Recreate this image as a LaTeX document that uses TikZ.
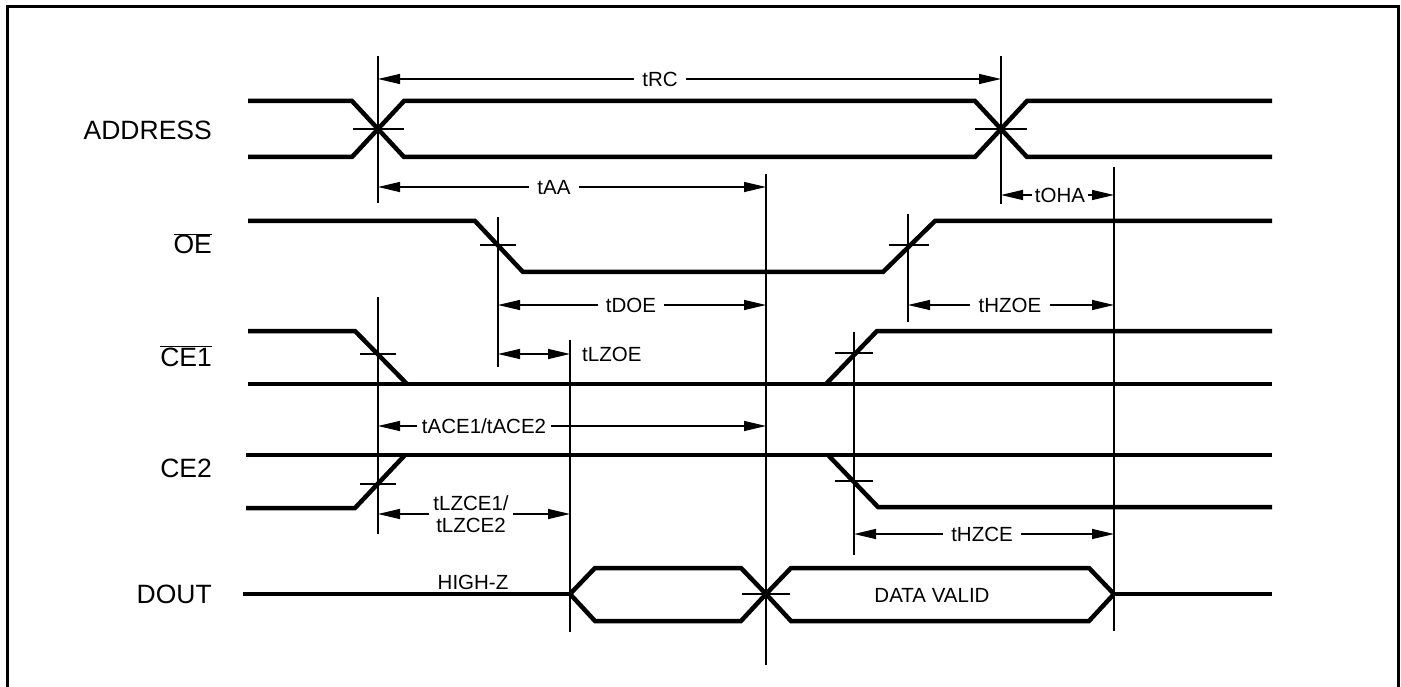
\documentclass[tikz,border=0pt]{standalone}
\usepackage{fontspec}
\setmainfont{Liberation Sans}
\usetikzlibrary{arrows.meta}
\begin{document}
\begin{tikzpicture}[x=1pt,y=-1pt,
  sig/.style={line width=4.5pt, line join=miter},
  thinl/.style={line width=1.4pt},
  arr/.style={thinl,-{Triangle[length=22pt,width=10pt]}},
  darr/.style={thinl,{Triangle[length=22pt,width=10pt]}-{Triangle[length=22pt,width=10pt]}},
  tlab/.style={font=\fontsize{20.5}{22}\selectfont, text height=14.7pt, text depth=0pt, inner sep=8pt},
  tlab2/.style={font=\fontsize{20.5}{22}\selectfont, align=center, inner sep=4pt},
  slab/.style={font=\fontsize{26.5}{30}\selectfont, anchor=base east, inner sep=0pt},
  tick/.style={thinl}]
\useasboundingbox (0,0) rectangle (1401,687);
% frame
\draw[line width=3pt] (7,687) -- (7,7) -- (1398,7) -- (1398,687);

% signal names
\node[slab] (lADDR) at (212,140) {ADDRESS};
\node[slab] (lOE)   at (212,254) {$\overline{\hbox{OE}}$};
\node[slab] (lCE1)  at (212,366) {$\overline{\hbox{CE1}}$};
\node[slab] (lCE2)  at (212,477) {CE2};
\node[slab] (lDOUT) at (212,603) {DOUT};

% ADDRESS
\draw[sig] (248,101) -- (352,101) -- (404,157) -- (975,157) -- (1027,101) -- (1272,101);
\draw[sig] (248,157) -- (352,157) -- (404,101) -- (975,101) -- (1027,157) -- (1272,157);
% OE
\draw[sig] (248,221) -- (475,221) -- (523,272) -- (883,272) -- (935,221) -- (1272,221);
% CE1
\draw[sig] (248,331) -- (355,331) -- (407,384);
\draw[sig] (248,384) -- (1272,384);
\draw[sig] (826,384) -- (877,331) -- (1272,331);
% CE2
\draw[sig] (246,455) -- (1272,455);
\draw[sig] (246,508) -- (355,508) -- (405,455);
\draw[sig] (828,455) -- (878,507) -- (1272,507);
% DOUT
\draw[sig] (243,594) -- (570,594);
\draw[sig] (570,594) -- (595,568) -- (741,568) -- (766,594) -- (741,621) -- (595,621) -- cycle;
\draw[sig] (766,594) -- (791,568) -- (1089,568) -- (1114,594) -- (1089,621) -- (791,621) -- cycle;
\draw[sig] (1114,594) -- (1272,594);

% vertical reference lines
\draw[thinl] (378,56) -- (378,203);
\draw[thinl] (1001,56) -- (1001,204);
\draw[thinl] (766,174) -- (766,665);
\draw[thinl] (1114,167) -- (1114,631);
\draw[thinl] (498,217) -- (498,367);
\draw[thinl] (570,340) -- (570,632);
\draw[thinl] (908,214) -- (908,322);
\draw[thinl] (854,332) -- (854,555);
\draw[thinl] (378,297) -- (378,534);

% crosshair ticks
\draw[tick] (353,129) -- (404,129);
\draw[tick] (975,129) -- (1027,129);
\draw[tick] (480,245) -- (516,245);
\draw[tick] (889,245) -- (929,245);
\draw[tick] (360,354) -- (396,354);
\draw[tick] (835,353) -- (873,353);
\draw[tick] (360,484) -- (396,484);
\draw[tick] (835,481) -- (873,481);
\draw[tick] (742,594) -- (790,594);

% timing labels and arrows
\node[tlab] (tRC) at (660,79) {tRC};
\draw[arr] (tRC) -- (378,79);
\draw[arr] (tRC) -- (1001,79);

\node[tlab] (tAA) at (554,187) {tAA};
\draw[arr] (tAA) -- (378,187);
\draw[arr] (tAA) -- (766,187);

\node[tlab,inner sep=3pt] (tOHA) at (1060,195) {tOHA};
\draw[arr] (tOHA) -- (1001,195);
\draw[arr] (tOHA) -- (1114,195);

\node[tlab] (tDOE) at (631,305) {tDOE};
\draw[arr] (tDOE) -- (498,305);
\draw[arr] (tDOE) -- (766,305);

\node[tlab] (tHZOE) at (1010,305) {tHZOE};
\draw[arr] (tHZOE) -- (908,305);
\draw[arr] (tHZOE) -- (1114,305);

\coordinate (lzA) at (498,354);
\coordinate (lzB) at (570,354);
\draw[darr] (lzA) -- (lzB);
\node[tlab,anchor=west,inner sep=0pt] (tLZOE) at (582,354) {tLZOE};

\node[tlab,inner sep=5pt] (tACE) at (484,426) {tACE1/tACE2};
\draw[arr] (tACE) -- (378,426);
\draw[arr] (tACE) -- (766,426);

\node[tlab2] (tLZCE) at (471,514) {tLZCE1/\\tLZCE2};
\draw[arr] (tLZCE.west) -- (378,514);
\draw[arr] (tLZCE.east) -- (570,514);

\node[tlab] (tHZCE) at (982,534) {tHZCE};
\draw[arr] (tHZCE) -- (854,534);
\draw[arr] (tHZCE) -- (1114,534);

\node[tlab,inner sep=0pt] (hiz) at (473,582) {HIGH-Z};
\node[tlab,inner sep=0pt] (dv) at (932,595) {DATA VALID};
\end{tikzpicture}
\end{document}
